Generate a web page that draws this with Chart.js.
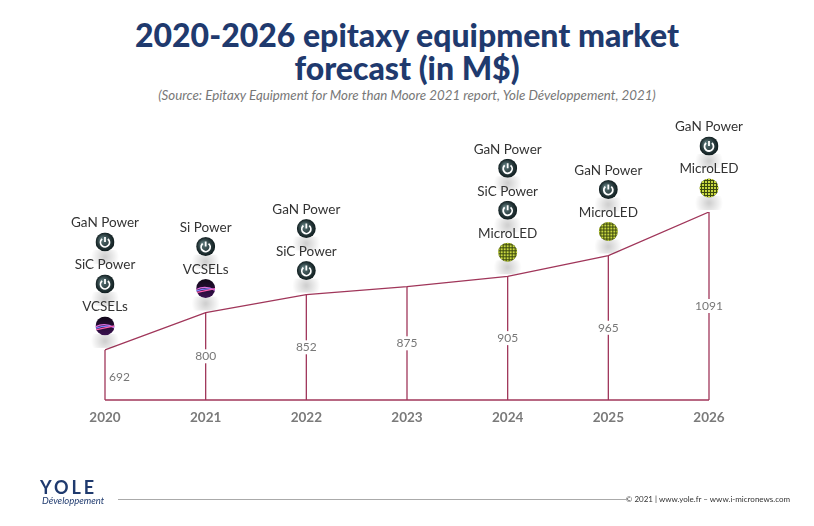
<!DOCTYPE html>
<html>
<head>
<meta charset="utf-8">
<script src="https://cdn.jsdelivr.net/npm/chart.js@4"></script>
<style>
  body { margin: 0; width: 814px; height: 526px; background: #fff; font-family: "Lato", sans-serif; overflow: hidden; position: relative; }
  #title { position: absolute; top: 18px; left: 0; width: 814px; text-align: center; color: #1f3a6e; font-weight: 900; font-size: 32px; line-height: 33px; }
  #source { position: absolute; top: 87px; left: 0; width: 814px; text-align: center; color: #777; font-style: italic; font-size: 13.3px; }
  #wrap { position: absolute; left: 0; top: 0; width: 814px; height: 526px; }
  #logo { position: absolute; left: 22px; top: 476px; color: #1f3a6e; }
  #logo .big { font-size: 18px; font-weight: bold; letter-spacing: 3px; margin-left: 18px; }
  #logo .small { font-size: 9.5px; font-style: italic; margin-left: 20px; display: block; margin-top: -3px; }
  #rule { position: absolute; left: 118px; right: 188px; top: 499px; border-top: 1px solid #aaa; }
  #copy { position: absolute; right: 24px; top: 494px; font-size: 8px; color: #333; }
</style>
</head>
<body>
<div id="title">2020-2026 epitaxy equipment market<br>forecast (in M$)</div>
<div id="source">(Source: Epitaxy Equipment for More than Moore 2021 report, Yole Développement, 2021)</div>
<div id="wrap"><canvas id="chart"></canvas></div>
<div id="logo"><span class="big">YOLE</span><span class="small">Développement</span></div>
<div id="rule"></div>
<div id="copy">© 2021 | www.yole.fr – www.i-micronews.com</div>
<script>
const years = ["2020", "2021", "2022", "2023", "2024", "2025", "2026"];
const market = [692, 800, 852, 875, 905, 965, 1091];
const apps = [
  ["GaN Power", "SiC Power", "VCSELs"],
  ["Si Power", "VCSELs"],
  ["GaN Power", "SiC Power"],
  [],
  ["GaN Power", "SiC Power", "MicroLED"],
  ["GaN Power", "MicroLED"],
  ["GaN Power", "MicroLED"]
];
const lineColor = "#a0365a";

function drawIcon(ctx, kind, x, y) {
  const r = 9.5;
  ctx.save();
  const sh = ctx.createRadialGradient(x, y + 15, 1, x, y + 15, 14);
  sh.addColorStop(0, "rgba(0,0,0,0.18)");
  sh.addColorStop(1, "rgba(0,0,0,0)");
  ctx.fillStyle = sh;
  ctx.fillRect(x - 16, y + 8, 32, 14);
  ctx.beginPath();
  ctx.arc(x, y, r, 0, Math.PI * 2);
  ctx.clip();
  if (kind.includes("Power")) {
    const g = ctx.createRadialGradient(x - 3, y - 3, 1, x, y, r);
    g.addColorStop(0, "#5a7577");
    g.addColorStop(1, "#0f1c1e");
    ctx.fillStyle = g;
    ctx.fillRect(x - r, y - r, 2 * r, 2 * r);
    ctx.strokeStyle = "#fff";
    ctx.lineWidth = 1.8;
    ctx.beginPath();
    ctx.arc(x, y + 0.5, 4.5, -Math.PI / 2 + 0.7, Math.PI * 1.5 - 0.7);
    ctx.stroke();
    ctx.beginPath();
    ctx.moveTo(x, y - 5);
    ctx.lineTo(x, y);
    ctx.stroke();
  } else if (kind === "VCSELs") {
    const g = ctx.createLinearGradient(x, y - r, x, y + r);
    g.addColorStop(0, "#100818");
    g.addColorStop(1, "#3a1050");
    ctx.fillStyle = g;
    ctx.fillRect(x - r, y - r, 2 * r, 2 * r);
    const cols = ["#e070e0", "#8080ff", "#ff60b0"];
    cols.forEach((c, i) => {
      ctx.strokeStyle = c;
      ctx.lineWidth = 1.2;
      ctx.beginPath();
      ctx.moveTo(x - r, y + 1 + i * 1.5);
      ctx.quadraticCurveTo(x, y - 4 + i * 3, x + r, y + 2 - i);
      ctx.stroke();
    });
  } else {
    ctx.fillStyle = "#3d4a10";
    ctx.fillRect(x - r, y - r, 2 * r, 2 * r);
    ctx.fillStyle = "#c8d840";
    for (let i = -3; i <= 3; i++) {
      for (let j = -3; j <= 3; j++) {
        ctx.fillRect(x + i * 3 - 1, y + j * 3 - 1, 2, 2);
      }
    }
  }
  ctx.restore();
}

const decor = {
  id: "decor",
  afterDatasetsDraw(chart) {
    const ctx = chart.ctx;
    const xs = chart.scales.x, ys = chart.scales.y;
    const base = ys.getPixelForValue(ys.min);
    ctx.save();
    ctx.strokeStyle = lineColor;
    ctx.lineWidth = 1.3;
    ctx.beginPath();
    ctx.moveTo(xs.getPixelForValue(0), base);
    ctx.lineTo(xs.getPixelForValue(years.length - 1), base);
    ctx.stroke();
    market.forEach((v, i) => {
      const x = xs.getPixelForValue(i);
      const y = ys.getPixelForValue(v);
      ctx.strokeStyle = lineColor;
      ctx.beginPath();
      ctx.moveTo(x, y);
      ctx.lineTo(x, base);
      ctx.stroke();
      const my = (y + base) / 2;
      ctx.font = "12px Lato";
      ctx.textBaseline = "middle";
      if (i === 0) {
        ctx.fillStyle = "#777";
        ctx.textAlign = "left";
        ctx.fillText(String(v), x + 4, my + 2);
      } else {
        const w = ctx.measureText(String(v)).width;
        ctx.fillStyle = "#fff";
        ctx.fillRect(x - w / 2 - 2, my - 7, w + 4, 14);
        ctx.fillStyle = "#777";
        ctx.textAlign = "center";
        ctx.fillText(String(v), x, my);
      }
      ctx.font = "bold 13.5px Lato";
      ctx.fillStyle = "#7a7a7a";
      ctx.textAlign = "center";
      ctx.fillText(years[i], x, base + 18);
      const list = apps[i];
      list.forEach((name, k) => {
        const iconY = y - 24 - (list.length - 1 - k) * 42;
        ctx.font = "13.5px Lato";
        ctx.fillStyle = "#333";
        ctx.textAlign = "center";
        ctx.textBaseline = "middle";
        ctx.fillText(name, x, iconY - 19);
        drawIcon(ctx, name, x, iconY);
      });
    });
    ctx.restore();
  }
};

new Chart(document.getElementById("chart"), {
  type: "line",
  data: {
    labels: years,
    datasets: [{
      data: market,
      borderColor: lineColor,
      borderWidth: 1.3,
      pointRadius: 0,
      tension: 0,
      fill: false
    }]
  },
  options: {
    responsive: true,
    maintainAspectRatio: false,
    animation: false,
    layout: { padding: { left: 105, right: 105, top: 212, bottom: 126 } },
    plugins: { legend: { display: false }, tooltip: { enabled: false } },
    scales: {
      x: { display: false, offset: false },
      y: { display: false, min: 547, max: 1091 }
    }
  },
  plugins: [decor]
});
</script>
</body>
</html>
